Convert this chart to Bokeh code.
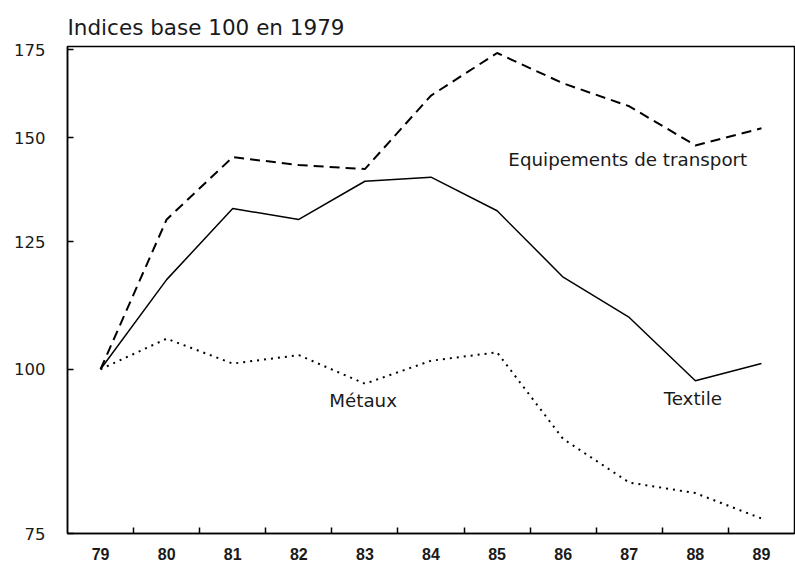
from bokeh.plotting import figure
from bokeh.models import Range1d, FixedTicker, PrintfTickFormatter, Label
from bokeh.embed import file_html
from bokeh.resources import INLINE

years = [79, 80, 81, 82, 83, 84, 85, 86, 87, 88, 89]
transport = [100, 130, 145, 143, 142, 161.5, 174, 165, 158.5, 148, 152.5]
textile = [100, 117, 132.5, 130, 139, 140, 132, 117.5, 109.5, 98, 101]
metaux = [100, 105.5, 101, 102.5, 97.5, 101.5, 103, 88.5, 82, 80.5, 77]
y_ticks = [75, 100, 125, 150, 175]
x_minor = [79.5, 80.5, 81.5, 82.5, 83.5, 84.5, 85.5, 86.5, 87.5, 88.5]

TXT = "#1a1a1a"
FONT = "DejaVu Sans"

p = figure(width=795, height=563, output_backend="svg", toolbar_location=None,
           y_axis_type="log", x_range=Range1d(78.5, 89.5), y_range=Range1d(75, 176),
           min_border_left=67, min_border_right=1, min_border_top=46, min_border_bottom=30)

p.title.text = "Indices base 100 en 1979"
p.title.text_font = FONT
p.title.text_font_size = "21.5px"
p.title.text_font_style = "normal"
p.title.text_color = TXT
p.title.align = "left"
p.title.vertical_align = "top"
p.title.offset = 0
p.title.standoff = 9

p.grid.visible = False
p.outline_line_color = "black"
p.outline_line_width = 1.5
p.background_fill_color = "white"
p.border_fill_color = "white"

# x axis
xa = p.xaxis[0]
xa.ticker = FixedTicker(ticks=years, minor_ticks=x_minor)
xa.axis_line_color = "black"
xa.axis_line_width = 1.5
xa.major_tick_in = 0
xa.major_tick_out = 0
xa.minor_tick_in = 6
xa.minor_tick_out = 0
xa.minor_tick_line_color = "black"
xa.minor_tick_line_width = 1.5
xa.major_label_text_font = "Liberation Sans"
xa.major_label_text_font_style = "bold"
xa.major_label_text_font_size = "16px"
xa.major_label_text_color = TXT
xa.major_label_standoff = 14

# y axis
ya = p.yaxis[0]
ya.ticker = FixedTicker(ticks=y_ticks, minor_ticks=[])
ya.formatter = PrintfTickFormatter(format="%d")
ya.axis_line_color = "black"
ya.axis_line_width = 1.5
ya.major_tick_in = 6
ya.major_tick_out = 0
ya.major_tick_line_color = "black"
ya.major_tick_line_width = 1.5
ya.minor_tick_line_color = None
ya.major_label_text_font = FONT
ya.major_label_text_font_size = "16.5px"
ya.major_label_text_color = TXT
ya.major_label_standoff = 22

p.line(years, transport, line_color="black", line_width=2, line_dash="10 6")
p.line(years, textile, line_color="black", line_width=1.5)
p.line(years, metaux, line_color="black", line_width=2, line_dash="2 5")

for txt, x, y in [("Equipements de transport", 85.17, 144.4),
                  ("Textile", 87.52, 95.0),
                  ("Métaux", 82.46, 94.7)]:
    p.add_layout(Label(x=x, y=y, text=txt, text_font=FONT, text_font_size="18.3px",
                       text_color=TXT, text_baseline="middle", text_align="left"))

open("out.html", "w").write(file_html(p, INLINE))
